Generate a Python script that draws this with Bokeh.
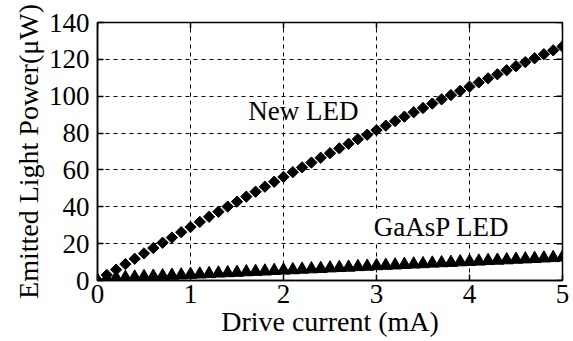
import math
from bokeh.plotting import figure
from bokeh.models import FixedTicker, Range1d, Label
from bokeh.embed import file_html
from bokeh.resources import INLINE

# Drive current (mA)
current = [0.0, 0.1, 0.2, 0.3, 0.4, 0.5, 0.6, 0.7, 0.8, 0.9,
           1.0, 1.1, 1.2, 1.3, 1.4, 1.5, 1.6, 1.7, 1.8, 1.9,
           2.0, 2.1, 2.2, 2.3, 2.4, 2.5, 2.6, 2.7, 2.8, 2.9,
           3.0, 3.1, 3.2, 3.3, 3.4, 3.5, 3.6, 3.7, 3.8, 3.9,
           4.0, 4.1, 4.2, 4.3, 4.4, 4.5, 4.6, 4.7, 4.8, 4.9, 5.0]

# Emitted light power (uW), new LED
new_led = [0.0, 3.0, 5.9, 8.9, 11.8, 14.7, 17.6, 20.5, 23.3, 26.2,
           29.0, 31.8, 34.6, 37.3, 40.1, 42.8, 45.5, 48.2, 50.9, 53.6,
           56.2, 58.8, 61.4, 64.0, 66.6, 69.1, 71.7, 74.2, 76.7, 79.1,
           81.6, 84.0, 86.5, 88.9, 91.3, 93.6, 96.0, 98.3, 100.6, 102.9,
           105.2, 107.5, 109.7, 111.9, 114.1, 116.3, 118.5, 120.6, 122.8, 124.9, 127.0]

# Emitted light power (uW), GaAsP LED
gaasp_led = [0.0, 1.0, 1.3, 1.5, 1.7, 2.0, 2.2, 2.4, 2.7, 2.9,
             3.2, 3.4, 3.6, 3.9, 4.1, 4.3, 4.6, 4.8, 5.0, 5.3,
             5.5, 5.7, 6.0, 6.2, 6.4, 6.7, 6.9, 7.1, 7.4, 7.6,
             7.9, 8.1, 8.3, 8.6, 8.8, 9.0, 9.3, 9.5, 9.7, 10.0,
             10.2, 10.4, 10.7, 10.9, 11.1, 11.4, 11.6, 11.8, 12.1, 12.3, 12.6]

x_ticks = [0, 1, 2, 3, 4, 5]
y_ticks = [0, 20, 40, 60, 80, 100, 120, 140]

FONT = "Liberation Serif"
FS_TICK = "27px"

p = figure(width=573, height=341, output_backend="svg", toolbar_location=None,
           x_range=Range1d(0, 5), y_range=Range1d(0, 140),
           min_border_left=97, min_border_right=11, min_border_top=22, min_border_bottom=61,
           background_fill_color="white", border_fill_color="white")

p.outline_line_color = "black"
p.outline_line_width = 1.5

for ax in (p.xaxis[0], p.yaxis[0]):
    ax.axis_line_color = "black"
    ax.axis_line_width = 1.5
    ax.major_tick_in = 6
    ax.major_tick_out = 0
    ax.minor_tick_line_color = None
    ax.major_tick_line_color = "black"
    ax.major_tick_line_width = 1.5
    ax.major_label_text_font = FONT
    ax.major_label_text_font_size = FS_TICK
    ax.major_label_text_color = "black"
    ax.axis_label_text_font = FONT
    ax.axis_label_text_font_style = "normal"
    ax.axis_label_text_color = "black"

p.xaxis.axis_label_text_font_size = "28px"
p.yaxis.axis_label_text_font_size = "28px"
p.xaxis.ticker = FixedTicker(ticks=x_ticks)
p.yaxis.ticker = FixedTicker(ticks=y_ticks)
p.xaxis.axis_label = "Drive current (mA)"
p.yaxis.axis_label = "Emitted Light Power(\u03bcW)"
p.xaxis.major_label_standoff = 4
p.xaxis.axis_label_standoff = 0
p.yaxis.major_label_standoff = 8
p.yaxis.axis_label_standoff = 2

# inward ticks on the right and top edges of the frame
xmax, ymax = x_ticks[-1], y_ticks[-1]
tick_dx = 6 * (xmax - x_ticks[0]) / 465.0
tick_dy = 6 * (ymax - y_ticks[0]) / 258.0
p.segment(x0=[xmax] * len(y_ticks), y0=y_ticks, x1=[xmax - tick_dx] * len(y_ticks), y1=y_ticks,
          line_color="black", line_width=1.5)
p.segment(x0=x_ticks, y0=[ymax] * len(x_ticks), x1=x_ticks, y1=[ymax - tick_dy] * len(x_ticks),
          line_color="black", line_width=1.5)

p.xgrid.ticker = FixedTicker(ticks=x_ticks[1:-1])
p.ygrid.ticker = FixedTicker(ticks=y_ticks[1:-1])
for g in (p.xgrid[0], p.ygrid[0]):
    g.grid_line_color = "black"
    g.grid_line_dash = "4 4"
    g.grid_line_width = 1

p.scatter(current, new_led, marker="square", size=8, angle=math.pi / 4,
          fill_color="black", line_color="black")
p.scatter(current, gaasp_led, marker="triangle", size=13,
          fill_color="black", line_color="black")

p.add_layout(Label(x=1.62, y=84, text="New LED", text_font=FONT, text_font_size=FS_TICK,
                   text_color="black", background_fill_color=None))
p.add_layout(Label(x=2.97, y=20.8, text="GaAsP LED", text_font=FONT, text_font_size=FS_TICK,
                   text_color="black", background_fill_color="white"))

open("out.html", "w").write(file_html(p, INLINE))
